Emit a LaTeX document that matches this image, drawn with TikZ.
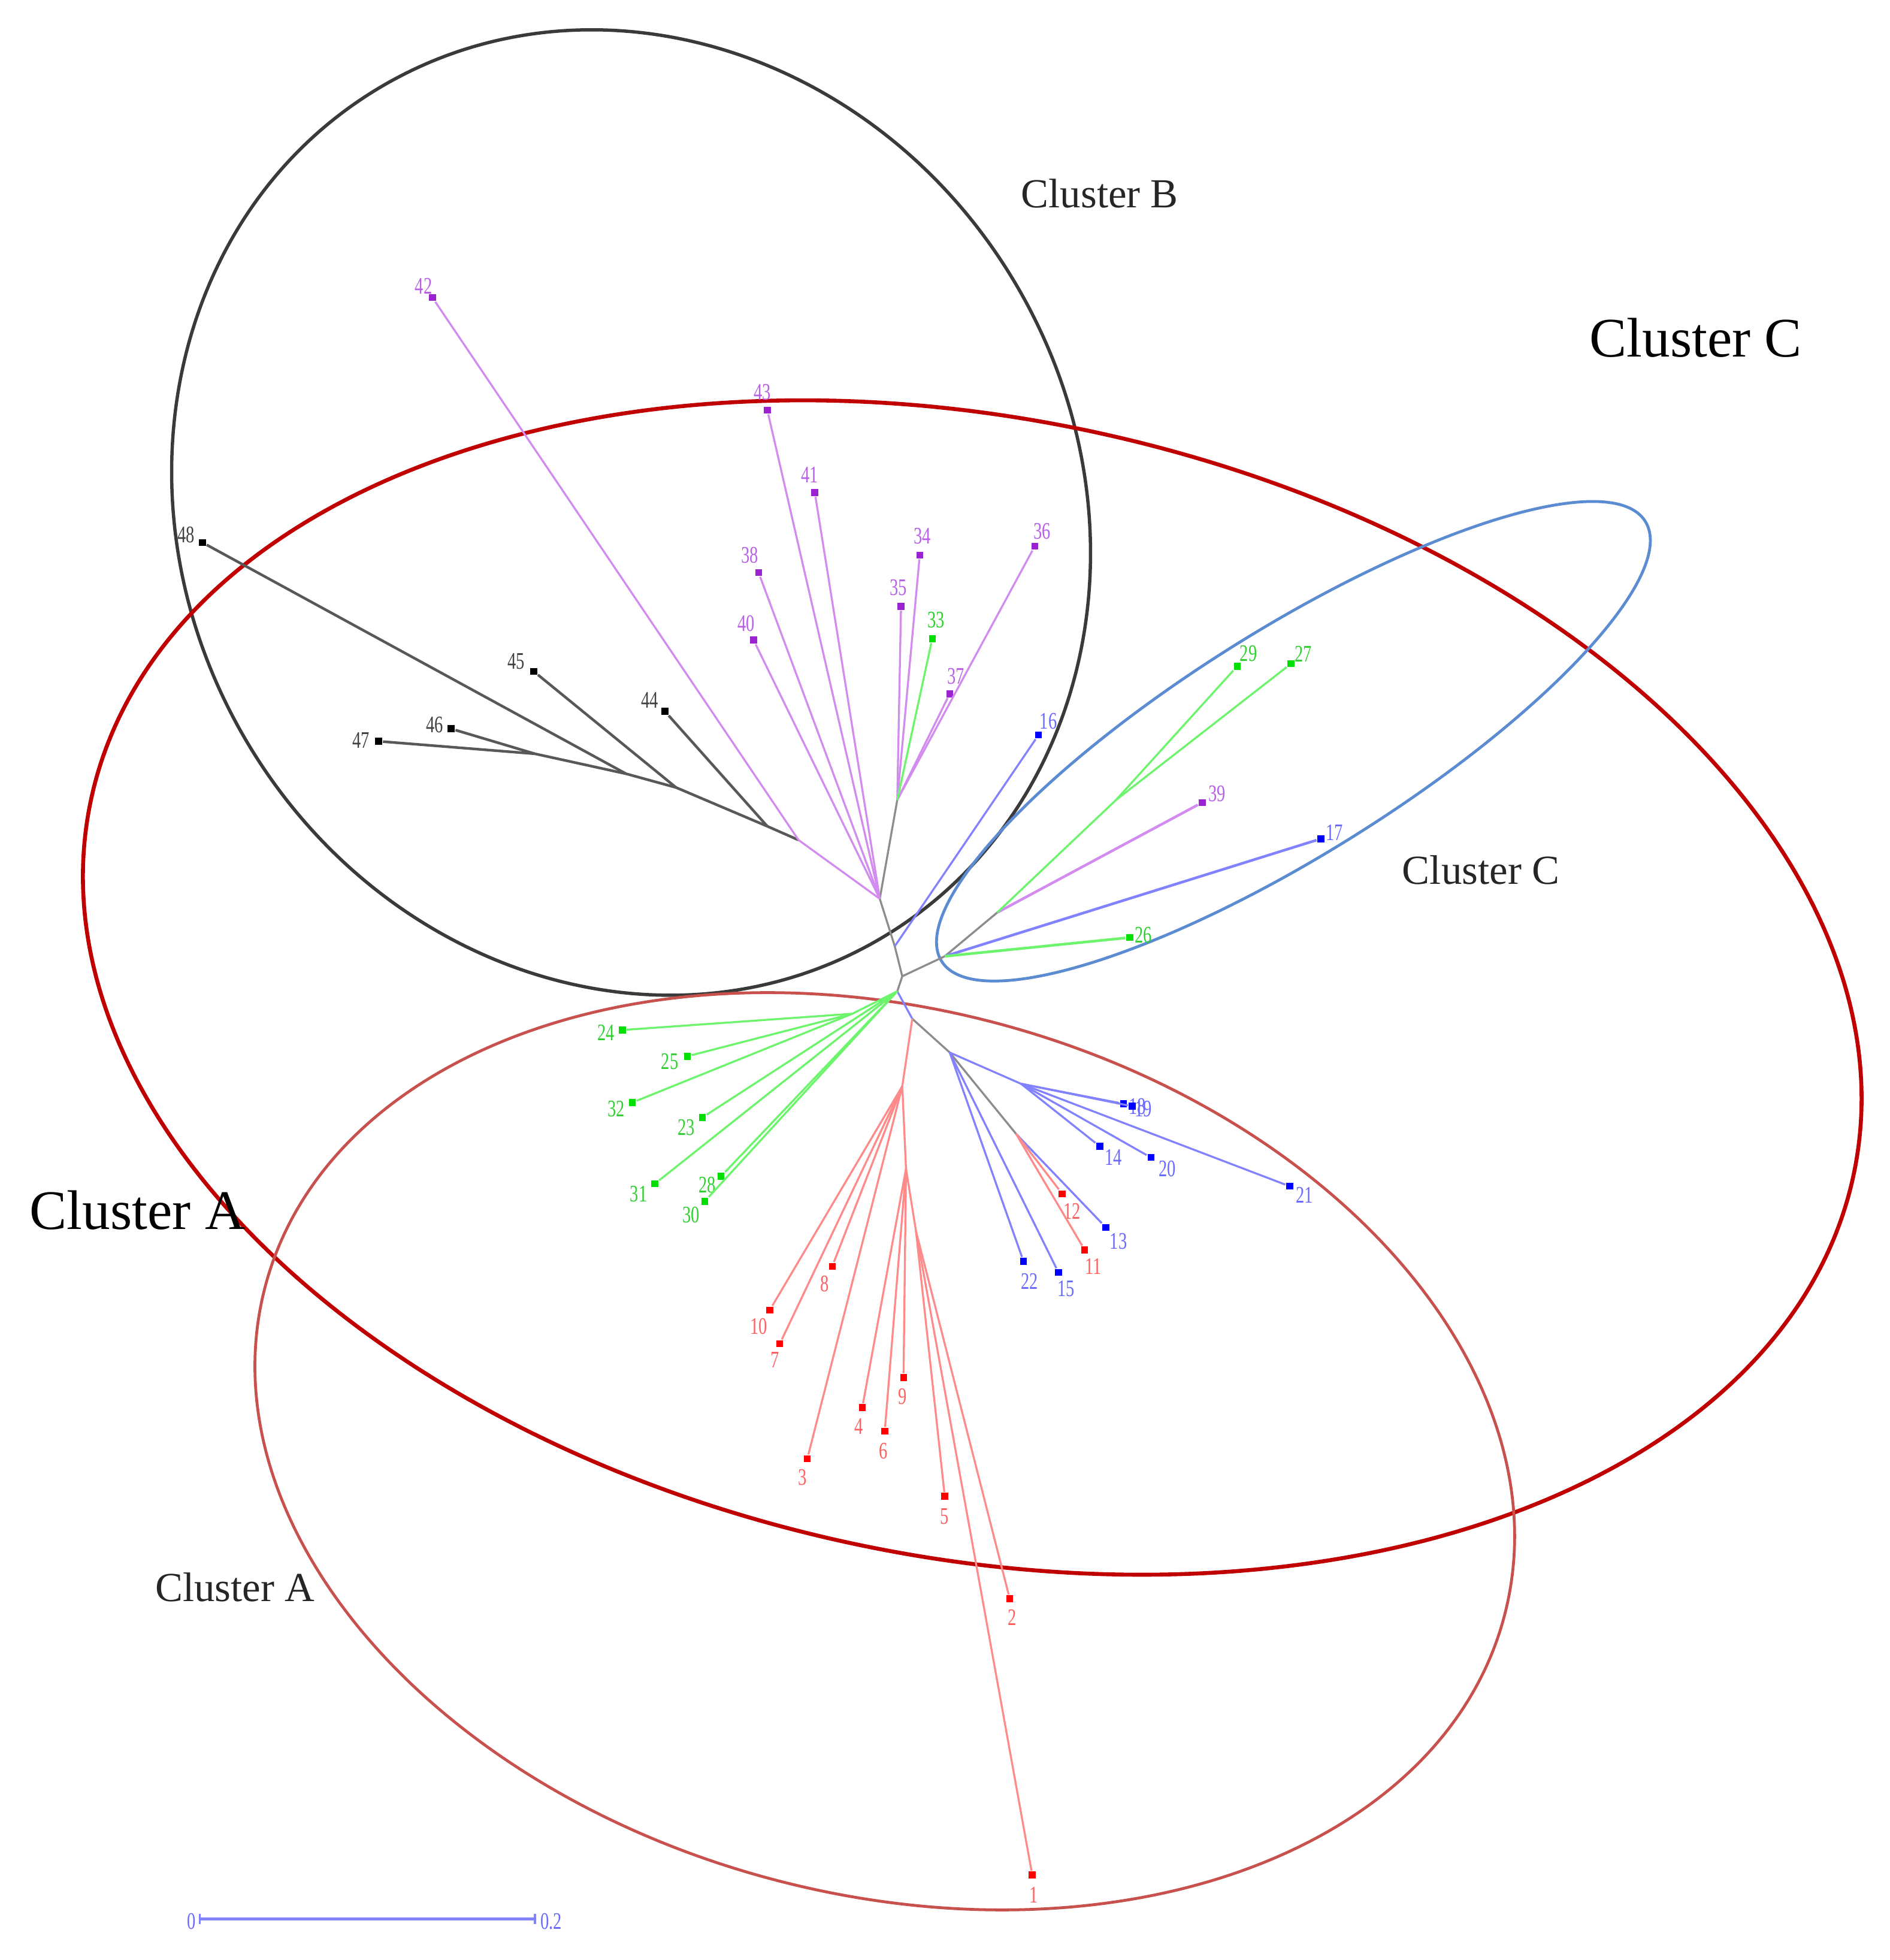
\documentclass[tikz,border=0pt]{standalone}
\usepackage{fontspec}
\setmainfont{Liberation Serif}
\definecolor{purL}{HTML}{D28CF0}
\definecolor{purD}{HTML}{9A22D0}
\definecolor{purT}{HTML}{B860E8}
\definecolor{bluL}{HTML}{8282FF}
\definecolor{bluD}{HTML}{0000FF}
\definecolor{bluT}{HTML}{6A6AFF}
\definecolor{redL}{HTML}{FF8A8A}
\definecolor{redD}{HTML}{FF0000}
\definecolor{redT}{HTML}{FF6060}
\definecolor{grnL}{HTML}{6CF56C}
\definecolor{grnD}{HTML}{00E000}
\definecolor{grnT}{HTML}{30D030}
\definecolor{gryL}{HTML}{8C8C8C}
\definecolor{blkL}{HTML}{585858}
\definecolor{bigRed}{HTML}{C00000}
\definecolor{aRed}{HTML}{C8504D}
\definecolor{cBlue}{HTML}{5B8BD0}
\definecolor{bCirc}{HTML}{3A3A3A}
\tikzset{
  dot/.style={rectangle,minimum size=0.55mm,inner sep=0pt,fill=#1},
  lab/.style={inner sep=0pt,font=\fontsize{5.4}{5.4}\selectfont,text=#1,xscale=0.72},
  edge/.style={line width=0.45pt,draw=#1},
  cl/.style={inner sep=0pt,font=\fontsize{9.4}{9.4}\selectfont,text=black!85},
  clbig/.style={inner sep=0pt,font=\fontsize{12.7}{12.7}\selectfont,text=black},
}
\begin{document}
\begin{tikzpicture}[x=0.1mm,y=-0.1mm]
\useasboundingbox[fill=white] (0,0) rectangle (1512,1568);
% cluster outlines
\draw[bCirc,line width=0.75pt,rotate around={-60:(505,410)}] (505,410) ellipse [x radius=395, y radius=358];
\draw[bigRed,line width=0.9pt,rotate around={-12:(778,790)}] (778,790) ellipse [x radius=721, y radius=455];
\draw[aRed,line width=0.65pt,rotate around={-15:(708,1161)}] (708,1161) ellipse [x radius=513, y radius=354];
\draw[cBlue,line width=0.65pt,rotate around={32:(1035,593)}] (1035,593) ellipse [x radius=332, y radius=90];
% internal nodes
\coordinate (R0) at (722,781);
\coordinate (Q1) at (716,757);
\coordinate (H1) at (704,719);
\coordinate (U) at (718,640);
\coordinate (B1) at (639,672);
\coordinate (N4) at (614,661);
\coordinate (N3) at (541,630);
\coordinate (N2) at (501,619);
\coordinate (N1) at (428,603);
\coordinate (C0) at (756,765);
\coordinate (C1) at (798,730);
\coordinate (C2) at (893,640);
\coordinate (Gh) at (718,793);
\coordinate (Ga) at (682,811);
\coordinate (D0) at (730,815);
\coordinate (D1) at (760,842);
\coordinate (Bn) at (817,867);
\coordinate (D2) at (813,907);
\coordinate (RA) at (722,869);
\coordinate (RB) at (725,935);
\coordinate (RC) at (733,985);
% leaves: purple
\node[dot=purD] (L42) at (346,238) {}; \node[lab=purT] (T42) at (339,229) {42};
\node[dot=purD] (L43) at (614,328) {}; \node[lab=purT] (T43) at (610,314) {43};
\node[dot=purD] (L41) at (652,394) {}; \node[lab=purT] (T41) at (648,380) {41};
\node[dot=purD] (L38) at (607,458) {}; \node[lab=purT] (T38) at (600,444) {38};
\node[dot=purD] (L40) at (603,512) {}; \node[lab=purT] (T40) at (597,499) {40};
\node[dot=purD] (L34) at (736,444) {}; \node[lab=purT] (T34) at (738,429) {34};
\node[dot=purD] (L35) at (721,485) {}; \node[lab=purT] (T35) at (719,470) {35};
\node[dot=purD] (L36) at (828,437) {}; \node[lab=purT] (T36) at (834,425) {36};
\node[dot=purD] (L37) at (760,555) {}; \node[lab=purT] (T37) at (765,541) {37};
\node[dot=purD] (L39) at (962,642) {}; \node[lab=purT] (T39) at (974,635) {39};
% leaves: black
\node[dot=black] (L48) at (162,434) {}; \node[lab=black!75] (T48) at (149,428) {48};
\node[dot=black] (L45) at (427,537) {}; \node[lab=black!75] (T45) at (413,529) {45};
\node[dot=black] (L44) at (532,569) {}; \node[lab=black!75] (T44) at (520,560) {44};
\node[dot=black] (L46) at (361,583) {}; \node[lab=black!75] (T46) at (348,580) {46};
\node[dot=black] (L47) at (303,593) {}; \node[lab=black!75] (T47) at (289,592) {47};
% leaves: green
\node[dot=grnD] (L33) at (746,511) {}; \node[lab=grnT] (T33) at (749,496) {33};
\node[dot=grnD] (L29) at (990,533) {}; \node[lab=grnT] (T29) at (999,523) {29};
\node[dot=grnD] (L27) at (1033,531) {}; \node[lab=grnT] (T27) at (1043,523) {27};
\node[dot=grnD] (L26) at (904,750) {}; \node[lab=grnT] (T26) at (915,748) {26};
\node[dot=grnD] (L24) at (498,824) {}; \node[lab=grnT] (T24) at (485,826) {24};
\node[dot=grnD] (L25) at (550,845) {}; \node[lab=grnT] (T25) at (536,849) {25};
\node[dot=grnD] (L32) at (506,882) {}; \node[lab=grnT] (T32) at (493,887) {32};
\node[dot=grnD] (L23) at (562,894) {}; \node[lab=grnT] (T23) at (549,902) {23};
\node[dot=grnD] (L31) at (524,947) {}; \node[lab=grnT] (T31) at (511,955) {31};
\node[dot=grnD] (L28) at (577,941) {}; \node[lab=grnT] (T28) at (566,948) {28};
\node[dot=grnD] (L30) at (564,961) {}; \node[lab=grnT] (T30) at (553,972) {30};
% leaves: blue
\node[dot=bluD] (L16) at (831,588) {}; \node[lab=bluT] (T16) at (839,577) {16};
\node[dot=bluD] (L17) at (1057,671) {}; \node[lab=bluT] (T17) at (1068,666) {17};
\node[dot=bluD] (L18) at (899,883) {}; \node[lab=bluT] (T18) at (910,885) {18};
\node[dot=bluD] (L19) at (906,885) {}; \node[lab=bluT] (T19) at (915,887) {19};
\node[dot=bluD] (L14) at (880,917) {}; \node[lab=bluT] (T14) at (891,926) {14};
\node[dot=bluD] (L20) at (921,926) {}; \node[lab=bluT] (T20) at (934,935) {20};
\node[dot=bluD] (L21) at (1032,949) {}; \node[lab=bluT] (T21) at (1044,956) {21};
\node[dot=bluD] (L13) at (885,982) {}; \node[lab=bluT] (T13) at (895,993) {13};
\node[dot=bluD] (L22) at (819,1009) {}; \node[lab=bluT] (T22) at (824,1025) {22};
\node[dot=bluD] (L15) at (847,1018) {}; \node[lab=bluT] (T15) at (853,1031) {15};
% leaves: red
\node[dot=redD] (L12) at (850,955) {}; \node[lab=redT] (T12) at (858,969) {12};
\node[dot=redD] (L11) at (868,1000) {}; \node[lab=redT] (T11) at (875,1013) {11};
\node[dot=redD] (L10) at (616,1048) {}; \node[lab=redT] (T10) at (607,1061) {10};
\node[dot=redD] (L7) at (624,1075) {}; \node[lab=redT] (T7) at (620,1088) {7};
\node[dot=redD] (L8) at (666,1013) {}; \node[lab=redT] (T8) at (660,1027) {8};
\node[dot=redD] (L9) at (723,1102) {}; \node[lab=redT] (T9) at (722,1117) {9};
\node[dot=redD] (L4) at (690,1126) {}; \node[lab=redT] (T4) at (687,1141) {4};
\node[dot=redD] (L6) at (708,1145) {}; \node[lab=redT] (T6) at (707,1161) {6};
\node[dot=redD] (L3) at (646,1167) {}; \node[lab=redT] (T3) at (642,1182) {3};
\node[dot=redD] (L5) at (756,1197) {}; \node[lab=redT] (T5) at (756,1213) {5};
\node[dot=redD] (L2) at (808,1279) {}; \node[lab=redT] (T2) at (810,1294) {2};
\node[dot=redD] (L1) at (826,1500) {}; \node[lab=redT] (T1) at (827,1516) {1};
% internal gray edges
\draw[edge=gryL] (R0) -- (Q1) -- (H1);
\draw[edge=gryL] (H1) -- (U);
\draw[edge=gryL] (R0) -- (C0);
\draw[edge=gryL] (C0) -- (C1);
\draw[edge=gryL] (R0) -- (Gh);
\draw[edge=bluL] (Gh) -- (D0);
\draw[edge=gryL] (D0) -- (D1);
\draw[edge=gryL] (D1) -- (D2);
% black group
\draw[edge=blkL,line width=0.6pt] (B1) -- (N4);
\draw[edge=blkL,line width=0.6pt] (N4) -- (N3);
\draw[edge=blkL,line width=0.6pt] (N3) -- (N2);
\draw[edge=blkL,line width=0.6pt] (N2) -- (N1);
\draw[edge=blkL,line width=0.6pt] (N1) -- (L47);
\draw[edge=blkL,line width=0.6pt] (N1) -- (L46);
\draw[edge=blkL,line width=0.6pt] (N2) -- (L48);
\draw[edge=blkL,line width=0.6pt] (N3) -- (L45);
\draw[edge=blkL,line width=0.6pt] (N4) -- (L44);
% purple group
\draw[edge=purL] (H1) -- (B1);
\draw[edge=purL] (B1) -- (L42);
\draw[edge=purL] (H1) -- (L43);
\draw[edge=purL] (H1) -- (L41);
\draw[edge=purL] (H1) -- (L38);
\draw[edge=purL] (H1) -- (L40);
\draw[edge=purL] (U) -- (L35);
\draw[edge=purL] (U) -- (L34);
\draw[edge=purL] (U) -- (L37);
\draw[edge=purL] (U) -- (L36);
\draw[edge=grnL] (U) -- (L33);
% cluster C group
\draw[edge=bluL] (Q1) -- (L16);
\draw[edge=bluL,line width=0.6pt] (C0) -- (L17);
\draw[edge=grnL,line width=0.6pt] (C0) -- (L26);
\draw[edge=purL,line width=0.6pt] (C1) -- (L39);
\draw[edge=grnL] (C1) -- (C2);
\draw[edge=grnL] (C2) -- (L29);
\draw[edge=grnL] (C2) -- (L27);
% green lower-left
\draw[edge=grnL] (Gh) -- (Ga);
\draw[edge=grnL] (Ga) -- (L24);
\draw[edge=grnL] (Ga) -- (L25);
\draw[edge=grnL] (Ga) -- (L32);
\draw[edge=grnL] (Gh) -- (L23);
\draw[edge=grnL] (Gh) -- (L31);
\draw[edge=grnL] (Gh) -- (L28);
\draw[edge=grnL] (Gh) -- (L30);
% blue lower-right
\draw[edge=bluL] (D1) -- (L22);
\draw[edge=bluL] (D1) -- (L15);
\draw[edge=bluL] (D1) -- (Bn);
\draw[edge=bluL] (Bn) -- (L18);
\draw[edge=bluL] (Bn) -- (L19);
\draw[edge=bluL] (Bn) -- (L14);
\draw[edge=bluL] (Bn) -- (L20);
\draw[edge=bluL] (Bn) -- (L21);
\draw[edge=bluL] (D2) -- (L13);
\draw[edge=redL] (D2) -- (L12);
\draw[edge=redL] (D2) -- (L11);
% red
\draw[edge=redL] (D0) -- (RA);
\draw[edge=redL] (RA) -- (L10);
\draw[edge=redL] (RA) -- (L7);
\draw[edge=redL] (RA) -- (L8);
\draw[edge=redL] (RA) -- (L3);
\draw[edge=redL] (RA) -- (RB);
\draw[edge=redL] (RB) -- (L9);
\draw[edge=redL] (RB) -- (L4);
\draw[edge=redL] (RB) -- (L6);
\draw[edge=redL] (RB) -- (RC);
\draw[edge=redL] (RC) -- (L5);
\draw[edge=redL] (RC) -- (L2);
\draw[edge=redL] (RC) -- (L1);
% scale bar
\coordinate (S0) at (160,1535);
\coordinate (S1) at (428,1535);
\draw[edge=bluL,line width=0.7pt] (S0) -- (S1);
\draw[edge=bluL] ([yshift=-0.4mm]S0) -- ([yshift=0.4mm]S0);
\draw[edge=bluL] ([yshift=-0.4mm]S1) -- ([yshift=0.4mm]S1);
\node[lab=bluT] (SL0) at (153,1537) {0};
\node[lab=bluT] (SL1) at (441,1537) {0.2};
% cluster labels
\node[cl] (CB) at (880,155) {Cluster B};
\node[clbig] (CCbig) at (1357,270) {Cluster C};
\node[cl] (CCs) at (1185,696) {Cluster C};
\node[clbig] (CAbig) at (110,968) {Cluster A};
\node[cl] (CAs) at (188,1270) {Cluster A};
\end{tikzpicture}
\end{document}
